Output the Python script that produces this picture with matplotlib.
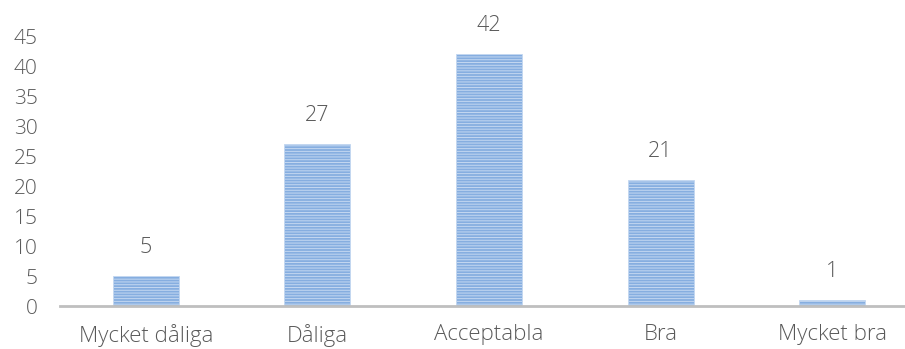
import matplotlib.pyplot as plt
import numpy as np

categories = ['Mycket dåliga', 'Dåliga', 'Acceptabla', 'Bra', 'Mycket bra']
values = [5, 27, 42, 21, 1]
yticks = [0, 5, 10, 15, 20, 25, 30, 35, 40, 45]

text_color = '#595959'
plt.rcParams['font.family'] = ['Open Sans', 'DejaVu Sans']
plt.rcParams['font.weight'] = 'light'
plt.rcParams['hatch.linewidth'] = 0.7

fig = plt.figure(figsize=(9.05, 3.49), dpi=100)
# axes spans a bit past the right edge so the last category stays centred
ax = fig.add_axes([60 / 905, 43 / 349, 858 / 905, 270 / 349])

x = np.arange(len(categories))
bars = ax.bar(x, values, width=0.385, color='#86aee0', edgecolor='#c4d8f1',
              linewidth=0.6, hatch='------', zorder=2)

for xi, v in zip(x, values):
    ax.text(xi, v + 3.0, str(v), ha='center', va='bottom', fontsize=15.5,
            color=text_color, clip_on=False)

ax.set_xlim(-0.5, len(categories) - 0.5)
ax.set_ylim(0, 45)
ax.set_yticks(yticks)
ax.set_xticks(x)
ax.set_xticklabels(categories, fontsize=16)
ax.tick_params(axis='both', length=0, labelcolor=text_color)
ax.tick_params(axis='y', pad=16, labelsize=15)
ax.tick_params(axis='x', pad=13)

for side in ['top', 'right', 'left']:
    ax.spines[side].set_visible(False)
ax.spines['bottom'].set_color('#bfbfbf')
ax.spines['bottom'].set_linewidth(2)
ax.spines['bottom'].set_zorder(3)

fig.savefig('out.png', dpi=100)
